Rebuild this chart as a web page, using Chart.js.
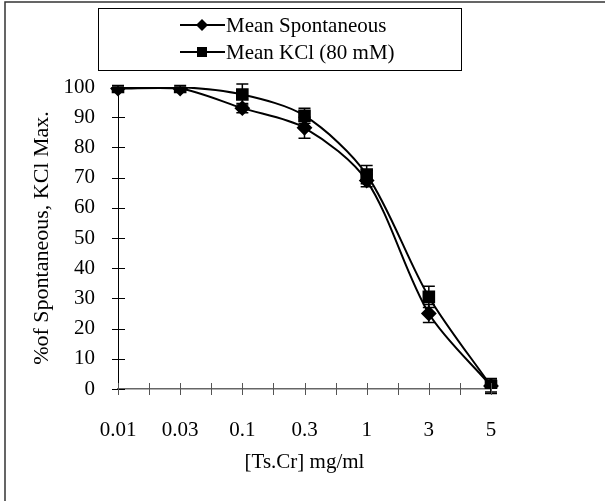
<!DOCTYPE html>
<html>
<head>
<meta charset="utf-8">
<script src="https://cdn.jsdelivr.net/npm/chart.js@4"></script>
<style>
  body { margin: 0; background: #fff; }
  canvas { display: block; }
</style>
</head>
<body>
<canvas id="doseChart" width="605" height="501"></canvas>
<script>
const doses = ['0.01', '0.03', '0.1', '0.3', '1', '3', '5'];
const spontMean = [99.5, 99.5, 93, 86.5, 69, 25, 1];
const spontErr = [0.5, 0.5, 1.5, 3.5, 2, 3, 2];
const kclMean = [100, 100, 97.5, 90.5, 71, 30.5, 1];
const kclErr = [0.5, 0.5, 3.5, 2.5, 3, 3.5, 2.5];
const yTicks = [0, 10, 20, 30, 40, 50, 60, 70, 80, 90, 100];

Chart.defaults.font.family = "'Liberation Serif', 'Times New Roman', serif";
Chart.defaults.color = '#000';

// error bars from the err arrays
const errorBars = {
  id: 'errorBars',
  afterDatasetsDraw(chart) {
    const ctx = chart.ctx;
    const y = chart.scales.y;
    chart.data.datasets.forEach((ds, i) => {
      const meta = chart.getDatasetMeta(i);
      ctx.save();
      ctx.strokeStyle = '#000';
      ctx.lineWidth = 1.5;
      meta.data.forEach((pt, j) => {
        const e = ds.err[j];
        const top = y.getPixelForValue(ds.data[j] + e);
        const bot = y.getPixelForValue(ds.data[j] - e);
        ctx.beginPath();
        ctx.moveTo(pt.x, top); ctx.lineTo(pt.x, bot);
        ctx.moveTo(pt.x - 6, top); ctx.lineTo(pt.x + 6, top);
        ctx.moveTo(pt.x - 6, bot); ctx.lineTo(pt.x + 6, bot);
        ctx.stroke();
      });
      ctx.restore();
    });
  }
};

// tick marks crossing the axes, outer frame, boxed legend
const decorations = {
  id: 'decorations',
  afterDraw(chart) {
    const ctx = chart.ctx;
    const xs = chart.scales.x, ys = chart.scales.y;
    const axisX = ys.right, axisY = xs.top;
    ctx.save();

    ctx.strokeStyle = '#000';
    ctx.lineWidth = 1;
    ys.ticks.forEach(t => {
      const py = Math.round(ys.getPixelForValue(t.value)) + 0.5;
      ctx.beginPath();
      ctx.moveTo(axisX - 6, py); ctx.lineTo(axisX + 7, py);
      ctx.stroke();
    });

    ctx.strokeStyle = '#555';
    for (let k = 0; k < doses.length * 2 - 1; k++) {
      const px = Math.round(xs.getPixelForValue(k / 2)) + 0.5;
      ctx.beginPath();
      ctx.moveTo(px, axisY - 6); ctx.lineTo(px, axisY + 6);
      ctx.stroke();
    }

    // frame (left and top edges only are visible)
    ctx.strokeStyle = '#333';
    ctx.lineWidth = 1.5;
    ctx.beginPath();
    ctx.moveTo(5, 501); ctx.lineTo(5, 2); ctx.lineTo(605, 2);
    ctx.stroke();

    // legend
    ctx.strokeStyle = '#000';
    ctx.lineWidth = 1;
    ctx.strokeRect(98.5, 8.5, 363, 62);
    ctx.font = "21px 'Liberation Serif', 'Times New Roman', serif";
    ctx.textBaseline = 'middle';
    ctx.fillStyle = '#000';
    const rows = [25, 52];
    chart.data.datasets.forEach((ds, i) => {
      const ry = rows[i];
      ctx.lineWidth = 2;
      ctx.beginPath();
      ctx.moveTo(180, ry); ctx.lineTo(225, ry);
      ctx.stroke();
      ctx.beginPath();
      if (ds.pointStyle === 'rectRot') {
        ctx.moveTo(202, ry - 6); ctx.lineTo(208, ry);
        ctx.lineTo(202, ry + 6); ctx.lineTo(196, ry);
        ctx.closePath();
      } else {
        ctx.rect(197, ry - 5, 10, 10);
      }
      ctx.fill();
      ctx.fillText(ds.label, 226, ry + 1);
    });
    ctx.restore();
  }
};

new Chart(document.getElementById('doseChart'), {
  type: 'line',
  data: {
    labels: doses,
    datasets: [
      {
        label: 'Mean Spontaneous',
        data: spontMean,
        err: spontErr,
        borderColor: '#000',
        backgroundColor: '#000',
        borderWidth: 2,
        pointStyle: 'rectRot',
        pointRadius: 6.5,
        tension: 0.3
      },
      {
        label: 'Mean KCl (80 mM)',
        data: kclMean,
        err: kclErr,
        borderColor: '#000',
        backgroundColor: '#000',
        borderWidth: 2,
        pointStyle: 'rect',
        pointRadius: 7.5,
        tension: 0.3
      }
    ]
  },
  options: {
    responsive: false,
    animation: false,
    layout: { padding: { top: 87, right: 114, left: 0, bottom: 0 } },
    plugins: {
      legend: { display: false },
      tooltip: { enabled: false }
    },
    scales: {
      x: {
        offset: false,
        grid: { display: false },
        border: { display: true, color: '#666', width: 1.5 },
        ticks: { font: { size: 21 }, padding: 21, maxRotation: 0, autoSkip: false },
        title: {
          display: true,
          text: '[Ts.Cr] mg/ml',
          font: { size: 21 },
          padding: { top: 0, bottom: 26 }
        },
        afterFit(scale) { scale.height = 112; }
      },
      y: {
        min: 0,
        max: 100,
        grid: { display: false },
        border: { display: true, color: '#000', width: 1 },
        afterBuildTicks(scale) { scale.ticks = yTicks.map(v => ({ value: v })); },
        ticks: { font: { size: 21 }, padding: 15 },
        title: {
          display: true,
          text: '%of Spontaneous, KCl Max.',
          font: { size: 22 },
          padding: { top: 29, bottom: 0 }
        },
        afterFit(scale) { scale.width = 118; }
      }
    }
  },
  plugins: [errorBars, decorations]
});
</script>
</body>
</html>
